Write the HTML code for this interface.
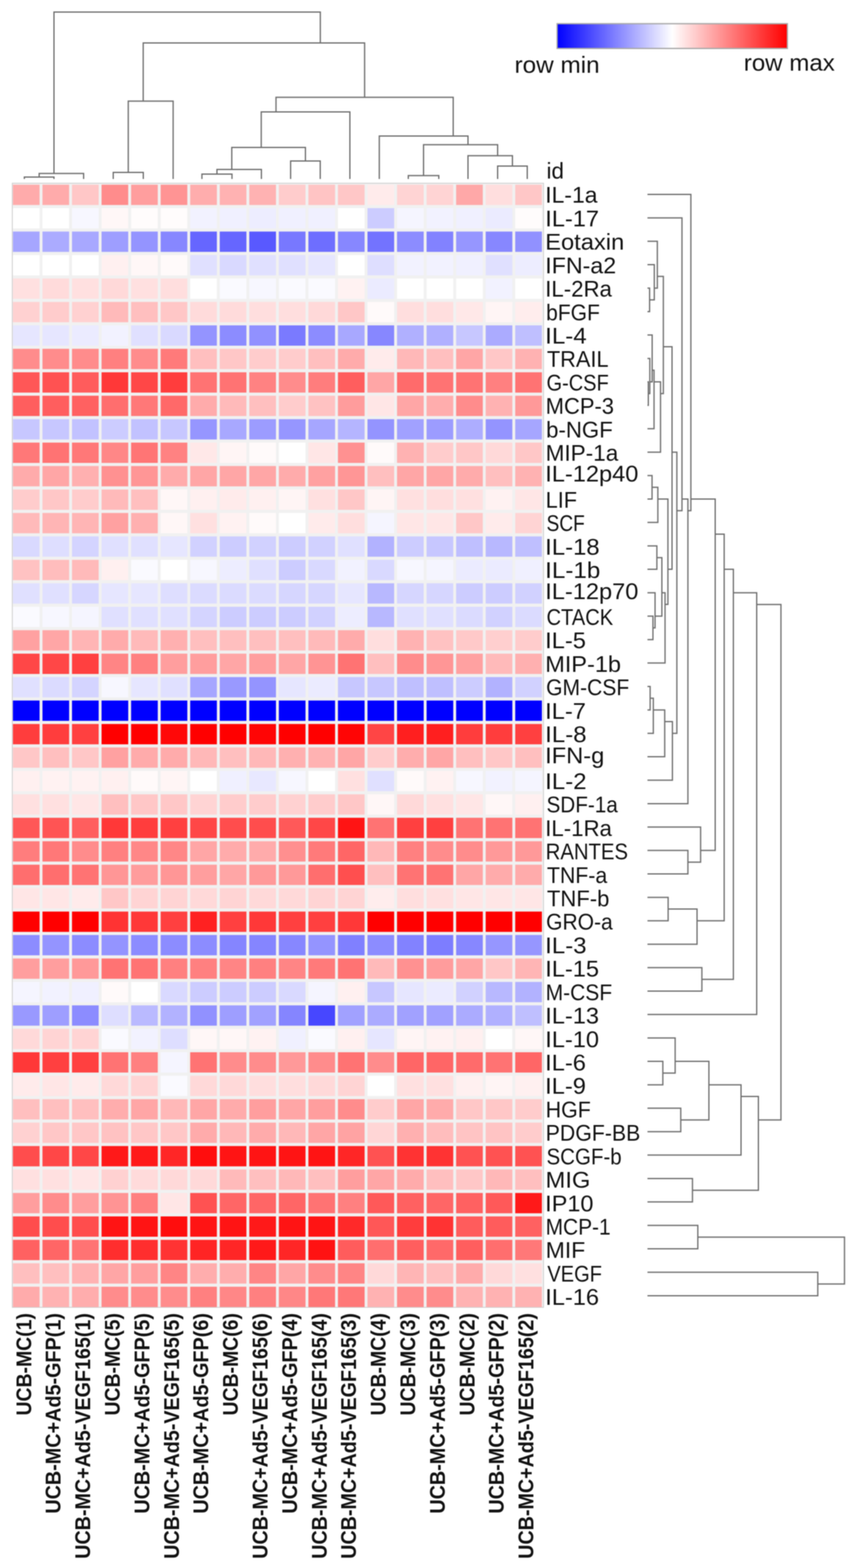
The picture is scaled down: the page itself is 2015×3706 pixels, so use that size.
<!DOCTYPE html>
<html><head><meta charset="utf-8"><title>Heatmap</title>
<style>
html,body{margin:0;padding:0;background:#fff;}
body{width:2015px;height:3706px;overflow:hidden;}
svg{display:block;filter:blur(0.8px);}
.rl{font-family:"Liberation Sans",Arial,sans-serif;font-size:53px;fill:#111;}
.cl{font-family:"Liberation Sans",Arial,sans-serif;font-size:50px;font-weight:bold;fill:#111;}
.lg{font-family:"Liberation Sans",Arial,sans-serif;font-size:56px;fill:#111;}
</style></head><body>
<svg width="2015" height="3706" viewBox="0 0 2015 3706">
<defs><linearGradient id="cg" x1="0" x2="1" y1="0" y2="0">
<stop offset="0" stop-color="#0000ff"/><stop offset="0.5" stop-color="#ffffff"/><stop offset="1" stop-color="#ff0000"/>
</linearGradient></defs>
<rect x="0" y="0" width="2015" height="3706" fill="#fff"/>
<rect x="1316" y="56" width="544" height="58.5" fill="url(#cg)" stroke="#a8a8a8" stroke-width="3"/>
<text class="lg" x="1215.5" y="171.7" textLength="201" lengthAdjust="spacingAndGlyphs">row min</text>
<text class="lg" x="1757" y="166.8" textLength="215" lengthAdjust="spacingAndGlyphs">row max</text>
<rect x="29" y="433" width="1255" height="2657" fill="#f1f1f1" stroke="#cfcfcf" stroke-width="2"/>
<g><rect x="30.5" y="436.5" width="63.0" height="48.0" fill="#ffabab"/><rect x="100.3" y="436.5" width="63.0" height="48.0" fill="#ffabab"/><rect x="170.1" y="436.5" width="63.0" height="48.0" fill="#ffc7c7"/><rect x="239.9" y="436.5" width="63.0" height="48.0" fill="#ff8c8c"/><rect x="309.7" y="436.5" width="63.0" height="48.0" fill="#ff9e9e"/><rect x="379.5" y="436.5" width="63.0" height="48.0" fill="#ff9494"/><rect x="449.3" y="436.5" width="63.0" height="48.0" fill="#ffadad"/><rect x="519.1" y="436.5" width="63.0" height="48.0" fill="#ffb2b2"/><rect x="588.9" y="436.5" width="63.0" height="48.0" fill="#ffb2b2"/><rect x="658.7" y="436.5" width="63.0" height="48.0" fill="#ffcccc"/><rect x="728.5" y="436.5" width="63.0" height="48.0" fill="#ffc4c4"/><rect x="798.3" y="436.5" width="63.0" height="48.0" fill="#ffc7c7"/><rect x="868.1" y="436.5" width="63.0" height="48.0" fill="#ffebeb"/><rect x="937.9" y="436.5" width="63.0" height="48.0" fill="#ffd4d4"/><rect x="1007.7" y="436.5" width="63.0" height="48.0" fill="#ffd4d4"/><rect x="1077.5" y="436.5" width="63.0" height="48.0" fill="#ffa8a8"/><rect x="1147.3" y="436.5" width="63.0" height="48.0" fill="#ffdede"/><rect x="1217.1" y="436.5" width="63.0" height="48.0" fill="#ffc7c7"/><rect x="30.5" y="491.9" width="63.0" height="48.0" fill="#ffffff"/><rect x="100.3" y="491.9" width="63.0" height="48.0" fill="#ffffff"/><rect x="170.1" y="491.9" width="63.0" height="48.0" fill="#f7f7ff"/><rect x="239.9" y="491.9" width="63.0" height="48.0" fill="#fff7f7"/><rect x="309.7" y="491.9" width="63.0" height="48.0" fill="#fffcfc"/><rect x="379.5" y="491.9" width="63.0" height="48.0" fill="#fffcfc"/><rect x="449.3" y="491.9" width="63.0" height="48.0" fill="#f2f2ff"/><rect x="519.1" y="491.9" width="63.0" height="48.0" fill="#f0f0ff"/><rect x="588.9" y="491.9" width="63.0" height="48.0" fill="#ededff"/><rect x="658.7" y="491.9" width="63.0" height="48.0" fill="#f0f0ff"/><rect x="728.5" y="491.9" width="63.0" height="48.0" fill="#f0f0ff"/><rect x="798.3" y="491.9" width="63.0" height="48.0" fill="#ffffff"/><rect x="868.1" y="491.9" width="63.0" height="48.0" fill="#ccccff"/><rect x="937.9" y="491.9" width="63.0" height="48.0" fill="#f5f5ff"/><rect x="1007.7" y="491.9" width="63.0" height="48.0" fill="#f2f2ff"/><rect x="1077.5" y="491.9" width="63.0" height="48.0" fill="#f0f0ff"/><rect x="1147.3" y="491.9" width="63.0" height="48.0" fill="#ebebff"/><rect x="1217.1" y="491.9" width="63.0" height="48.0" fill="#fffcfc"/><rect x="30.5" y="547.3" width="63.0" height="48.0" fill="#a6a6ff"/><rect x="100.3" y="547.3" width="63.0" height="48.0" fill="#ababff"/><rect x="170.1" y="547.3" width="63.0" height="48.0" fill="#a8a8ff"/><rect x="239.9" y="547.3" width="63.0" height="48.0" fill="#9e9eff"/><rect x="309.7" y="547.3" width="63.0" height="48.0" fill="#9494ff"/><rect x="379.5" y="547.3" width="63.0" height="48.0" fill="#8787ff"/><rect x="449.3" y="547.3" width="63.0" height="48.0" fill="#6666ff"/><rect x="519.1" y="547.3" width="63.0" height="48.0" fill="#6666ff"/><rect x="588.9" y="547.3" width="63.0" height="48.0" fill="#5959ff"/><rect x="658.7" y="547.3" width="63.0" height="48.0" fill="#7878ff"/><rect x="728.5" y="547.3" width="63.0" height="48.0" fill="#6e6eff"/><rect x="798.3" y="547.3" width="63.0" height="48.0" fill="#8787ff"/><rect x="868.1" y="547.3" width="63.0" height="48.0" fill="#7373ff"/><rect x="937.9" y="547.3" width="63.0" height="48.0" fill="#8c8cff"/><rect x="1007.7" y="547.3" width="63.0" height="48.0" fill="#8282ff"/><rect x="1077.5" y="547.3" width="63.0" height="48.0" fill="#9696ff"/><rect x="1147.3" y="547.3" width="63.0" height="48.0" fill="#8787ff"/><rect x="1217.1" y="547.3" width="63.0" height="48.0" fill="#9191ff"/><rect x="30.5" y="602.8" width="63.0" height="48.0" fill="#ffffff"/><rect x="100.3" y="602.8" width="63.0" height="48.0" fill="#ffffff"/><rect x="170.1" y="602.8" width="63.0" height="48.0" fill="#ffffff"/><rect x="239.9" y="602.8" width="63.0" height="48.0" fill="#fff0f0"/><rect x="309.7" y="602.8" width="63.0" height="48.0" fill="#fff7f7"/><rect x="379.5" y="602.8" width="63.0" height="48.0" fill="#fffafa"/><rect x="449.3" y="602.8" width="63.0" height="48.0" fill="#e0e0ff"/><rect x="519.1" y="602.8" width="63.0" height="48.0" fill="#d9d9ff"/><rect x="588.9" y="602.8" width="63.0" height="48.0" fill="#e0e0ff"/><rect x="658.7" y="602.8" width="63.0" height="48.0" fill="#e0e0ff"/><rect x="728.5" y="602.8" width="63.0" height="48.0" fill="#e6e6ff"/><rect x="798.3" y="602.8" width="63.0" height="48.0" fill="#ffffff"/><rect x="868.1" y="602.8" width="63.0" height="48.0" fill="#dedeff"/><rect x="937.9" y="602.8" width="63.0" height="48.0" fill="#f2f2ff"/><rect x="1007.7" y="602.8" width="63.0" height="48.0" fill="#f2f2ff"/><rect x="1077.5" y="602.8" width="63.0" height="48.0" fill="#f0f0ff"/><rect x="1147.3" y="602.8" width="63.0" height="48.0" fill="#e0e0ff"/><rect x="1217.1" y="602.8" width="63.0" height="48.0" fill="#ededff"/><rect x="30.5" y="658.2" width="63.0" height="48.0" fill="#ffe0e0"/><rect x="100.3" y="658.2" width="63.0" height="48.0" fill="#ffdbdb"/><rect x="170.1" y="658.2" width="63.0" height="48.0" fill="#ffe0e0"/><rect x="239.9" y="658.2" width="63.0" height="48.0" fill="#ffd9d9"/><rect x="309.7" y="658.2" width="63.0" height="48.0" fill="#ffe0e0"/><rect x="379.5" y="658.2" width="63.0" height="48.0" fill="#ffdede"/><rect x="449.3" y="658.2" width="63.0" height="48.0" fill="#ffffff"/><rect x="519.1" y="658.2" width="63.0" height="48.0" fill="#fafaff"/><rect x="588.9" y="658.2" width="63.0" height="48.0" fill="#f7f7ff"/><rect x="658.7" y="658.2" width="63.0" height="48.0" fill="#fafaff"/><rect x="728.5" y="658.2" width="63.0" height="48.0" fill="#fafaff"/><rect x="798.3" y="658.2" width="63.0" height="48.0" fill="#fff2f2"/><rect x="868.1" y="658.2" width="63.0" height="48.0" fill="#ebebff"/><rect x="937.9" y="658.2" width="63.0" height="48.0" fill="#ffffff"/><rect x="1007.7" y="658.2" width="63.0" height="48.0" fill="#ffffff"/><rect x="1077.5" y="658.2" width="63.0" height="48.0" fill="#ffffff"/><rect x="1147.3" y="658.2" width="63.0" height="48.0" fill="#f2f2ff"/><rect x="1217.1" y="658.2" width="63.0" height="48.0" fill="#ffffff"/><rect x="30.5" y="713.6" width="63.0" height="48.0" fill="#ffd1d1"/><rect x="100.3" y="713.6" width="63.0" height="48.0" fill="#ffcccc"/><rect x="170.1" y="713.6" width="63.0" height="48.0" fill="#ffd1d1"/><rect x="239.9" y="713.6" width="63.0" height="48.0" fill="#ffbaba"/><rect x="309.7" y="713.6" width="63.0" height="48.0" fill="#ffbfbf"/><rect x="379.5" y="713.6" width="63.0" height="48.0" fill="#ffc7c7"/><rect x="449.3" y="713.6" width="63.0" height="48.0" fill="#ffdbdb"/><rect x="519.1" y="713.6" width="63.0" height="48.0" fill="#ffdbdb"/><rect x="588.9" y="713.6" width="63.0" height="48.0" fill="#ffdede"/><rect x="658.7" y="713.6" width="63.0" height="48.0" fill="#ffdede"/><rect x="728.5" y="713.6" width="63.0" height="48.0" fill="#ffd9d9"/><rect x="798.3" y="713.6" width="63.0" height="48.0" fill="#ffc7c7"/><rect x="868.1" y="713.6" width="63.0" height="48.0" fill="#fffafa"/><rect x="937.9" y="713.6" width="63.0" height="48.0" fill="#ffdede"/><rect x="1007.7" y="713.6" width="63.0" height="48.0" fill="#ffdede"/><rect x="1077.5" y="713.6" width="63.0" height="48.0" fill="#ffe8e8"/><rect x="1147.3" y="713.6" width="63.0" height="48.0" fill="#fff5f5"/><rect x="1217.1" y="713.6" width="63.0" height="48.0" fill="#ffeded"/><rect x="30.5" y="769.0" width="63.0" height="48.0" fill="#e6e6ff"/><rect x="100.3" y="769.0" width="63.0" height="48.0" fill="#e6e6ff"/><rect x="170.1" y="769.0" width="63.0" height="48.0" fill="#ebebff"/><rect x="239.9" y="769.0" width="63.0" height="48.0" fill="#f2f2ff"/><rect x="309.7" y="769.0" width="63.0" height="48.0" fill="#e0e0ff"/><rect x="379.5" y="769.0" width="63.0" height="48.0" fill="#d9d9ff"/><rect x="449.3" y="769.0" width="63.0" height="48.0" fill="#9494ff"/><rect x="519.1" y="769.0" width="63.0" height="48.0" fill="#8c8cff"/><rect x="588.9" y="769.0" width="63.0" height="48.0" fill="#9191ff"/><rect x="658.7" y="769.0" width="63.0" height="48.0" fill="#7a7aff"/><rect x="728.5" y="769.0" width="63.0" height="48.0" fill="#8c8cff"/><rect x="798.3" y="769.0" width="63.0" height="48.0" fill="#a8a8ff"/><rect x="868.1" y="769.0" width="63.0" height="48.0" fill="#8787ff"/><rect x="937.9" y="769.0" width="63.0" height="48.0" fill="#b0b0ff"/><rect x="1007.7" y="769.0" width="63.0" height="48.0" fill="#b0b0ff"/><rect x="1077.5" y="769.0" width="63.0" height="48.0" fill="#c7c7ff"/><rect x="1147.3" y="769.0" width="63.0" height="48.0" fill="#ababff"/><rect x="1217.1" y="769.0" width="63.0" height="48.0" fill="#bfbfff"/><rect x="30.5" y="824.4" width="63.0" height="48.0" fill="#ff8c8c"/><rect x="100.3" y="824.4" width="63.0" height="48.0" fill="#ff8c8c"/><rect x="170.1" y="824.4" width="63.0" height="48.0" fill="#ff8c8c"/><rect x="239.9" y="824.4" width="63.0" height="48.0" fill="#ff8080"/><rect x="309.7" y="824.4" width="63.0" height="48.0" fill="#ff8c8c"/><rect x="379.5" y="824.4" width="63.0" height="48.0" fill="#ff7a7a"/><rect x="449.3" y="824.4" width="63.0" height="48.0" fill="#ffbfbf"/><rect x="519.1" y="824.4" width="63.0" height="48.0" fill="#ffc7c7"/><rect x="588.9" y="824.4" width="63.0" height="48.0" fill="#ffcccc"/><rect x="658.7" y="824.4" width="63.0" height="48.0" fill="#ffcccc"/><rect x="728.5" y="824.4" width="63.0" height="48.0" fill="#ffbfbf"/><rect x="798.3" y="824.4" width="63.0" height="48.0" fill="#ffabab"/><rect x="868.1" y="824.4" width="63.0" height="48.0" fill="#ffebeb"/><rect x="937.9" y="824.4" width="63.0" height="48.0" fill="#ffb8b8"/><rect x="1007.7" y="824.4" width="63.0" height="48.0" fill="#ffbfbf"/><rect x="1077.5" y="824.4" width="63.0" height="48.0" fill="#ffa6a6"/><rect x="1147.3" y="824.4" width="63.0" height="48.0" fill="#ffc7c7"/><rect x="1217.1" y="824.4" width="63.0" height="48.0" fill="#ffb2b2"/><rect x="30.5" y="879.9" width="63.0" height="48.0" fill="#ff5757"/><rect x="100.3" y="879.9" width="63.0" height="48.0" fill="#ff5252"/><rect x="170.1" y="879.9" width="63.0" height="48.0" fill="#ff5c5c"/><rect x="239.9" y="879.9" width="63.0" height="48.0" fill="#ff3838"/><rect x="309.7" y="879.9" width="63.0" height="48.0" fill="#ff4747"/><rect x="379.5" y="879.9" width="63.0" height="48.0" fill="#ff3d3d"/><rect x="449.3" y="879.9" width="63.0" height="48.0" fill="#ff7373"/><rect x="519.1" y="879.9" width="63.0" height="48.0" fill="#ff7373"/><rect x="588.9" y="879.9" width="63.0" height="48.0" fill="#ff8282"/><rect x="658.7" y="879.9" width="63.0" height="48.0" fill="#ff8c8c"/><rect x="728.5" y="879.9" width="63.0" height="48.0" fill="#ff7d7d"/><rect x="798.3" y="879.9" width="63.0" height="48.0" fill="#ff5e5e"/><rect x="868.1" y="879.9" width="63.0" height="48.0" fill="#ffa6a6"/><rect x="937.9" y="879.9" width="63.0" height="48.0" fill="#ff6b6b"/><rect x="1007.7" y="879.9" width="63.0" height="48.0" fill="#ff7373"/><rect x="1077.5" y="879.9" width="63.0" height="48.0" fill="#ff7373"/><rect x="1147.3" y="879.9" width="63.0" height="48.0" fill="#ff8080"/><rect x="1217.1" y="879.9" width="63.0" height="48.0" fill="#ff7373"/><rect x="30.5" y="935.3" width="63.0" height="48.0" fill="#ff5e5e"/><rect x="100.3" y="935.3" width="63.0" height="48.0" fill="#ff5e5e"/><rect x="170.1" y="935.3" width="63.0" height="48.0" fill="#ff6161"/><rect x="239.9" y="935.3" width="63.0" height="48.0" fill="#ff6e6e"/><rect x="309.7" y="935.3" width="63.0" height="48.0" fill="#ff7878"/><rect x="379.5" y="935.3" width="63.0" height="48.0" fill="#ff6969"/><rect x="449.3" y="935.3" width="63.0" height="48.0" fill="#ffabab"/><rect x="519.1" y="935.3" width="63.0" height="48.0" fill="#ffbaba"/><rect x="588.9" y="935.3" width="63.0" height="48.0" fill="#ffbfbf"/><rect x="658.7" y="935.3" width="63.0" height="48.0" fill="#ffcccc"/><rect x="728.5" y="935.3" width="63.0" height="48.0" fill="#ffc2c2"/><rect x="798.3" y="935.3" width="63.0" height="48.0" fill="#ff9c9c"/><rect x="868.1" y="935.3" width="63.0" height="48.0" fill="#ffe6e6"/><rect x="937.9" y="935.3" width="63.0" height="48.0" fill="#ffa6a6"/><rect x="1007.7" y="935.3" width="63.0" height="48.0" fill="#ffadad"/><rect x="1077.5" y="935.3" width="63.0" height="48.0" fill="#ff8c8c"/><rect x="1147.3" y="935.3" width="63.0" height="48.0" fill="#ffb2b2"/><rect x="1217.1" y="935.3" width="63.0" height="48.0" fill="#ff9999"/><rect x="30.5" y="990.7" width="63.0" height="48.0" fill="#c7c7ff"/><rect x="100.3" y="990.7" width="63.0" height="48.0" fill="#c7c7ff"/><rect x="170.1" y="990.7" width="63.0" height="48.0" fill="#c2c2ff"/><rect x="239.9" y="990.7" width="63.0" height="48.0" fill="#ccccff"/><rect x="309.7" y="990.7" width="63.0" height="48.0" fill="#c2c2ff"/><rect x="379.5" y="990.7" width="63.0" height="48.0" fill="#c7c7ff"/><rect x="449.3" y="990.7" width="63.0" height="48.0" fill="#9696ff"/><rect x="519.1" y="990.7" width="63.0" height="48.0" fill="#a8a8ff"/><rect x="588.9" y="990.7" width="63.0" height="48.0" fill="#9c9cff"/><rect x="658.7" y="990.7" width="63.0" height="48.0" fill="#9696ff"/><rect x="728.5" y="990.7" width="63.0" height="48.0" fill="#a6a6ff"/><rect x="798.3" y="990.7" width="63.0" height="48.0" fill="#b5b5ff"/><rect x="868.1" y="990.7" width="63.0" height="48.0" fill="#9494ff"/><rect x="937.9" y="990.7" width="63.0" height="48.0" fill="#a1a1ff"/><rect x="1007.7" y="990.7" width="63.0" height="48.0" fill="#9c9cff"/><rect x="1077.5" y="990.7" width="63.0" height="48.0" fill="#adadff"/><rect x="1147.3" y="990.7" width="63.0" height="48.0" fill="#9494ff"/><rect x="1217.1" y="990.7" width="63.0" height="48.0" fill="#a6a6ff"/><rect x="30.5" y="1046.1" width="63.0" height="48.0" fill="#ff7878"/><rect x="100.3" y="1046.1" width="63.0" height="48.0" fill="#ff7373"/><rect x="170.1" y="1046.1" width="63.0" height="48.0" fill="#ff7878"/><rect x="239.9" y="1046.1" width="63.0" height="48.0" fill="#ff8787"/><rect x="309.7" y="1046.1" width="63.0" height="48.0" fill="#ff7575"/><rect x="379.5" y="1046.1" width="63.0" height="48.0" fill="#ff8282"/><rect x="449.3" y="1046.1" width="63.0" height="48.0" fill="#ffe8e8"/><rect x="519.1" y="1046.1" width="63.0" height="48.0" fill="#fff5f5"/><rect x="588.9" y="1046.1" width="63.0" height="48.0" fill="#fffafa"/><rect x="658.7" y="1046.1" width="63.0" height="48.0" fill="#ffffff"/><rect x="728.5" y="1046.1" width="63.0" height="48.0" fill="#ffe6e6"/><rect x="798.3" y="1046.1" width="63.0" height="48.0" fill="#ff9191"/><rect x="868.1" y="1046.1" width="63.0" height="48.0" fill="#fffafa"/><rect x="937.9" y="1046.1" width="63.0" height="48.0" fill="#ffb2b2"/><rect x="1007.7" y="1046.1" width="63.0" height="48.0" fill="#ffcccc"/><rect x="1077.5" y="1046.1" width="63.0" height="48.0" fill="#ffc7c7"/><rect x="1147.3" y="1046.1" width="63.0" height="48.0" fill="#ffd9d9"/><rect x="1217.1" y="1046.1" width="63.0" height="48.0" fill="#ffc7c7"/><rect x="30.5" y="1101.5" width="63.0" height="48.0" fill="#ffabab"/><rect x="100.3" y="1101.5" width="63.0" height="48.0" fill="#ffa6a6"/><rect x="170.1" y="1101.5" width="63.0" height="48.0" fill="#ffb0b0"/><rect x="239.9" y="1101.5" width="63.0" height="48.0" fill="#ff9191"/><rect x="309.7" y="1101.5" width="63.0" height="48.0" fill="#ff9696"/><rect x="379.5" y="1101.5" width="63.0" height="48.0" fill="#ffabab"/><rect x="449.3" y="1101.5" width="63.0" height="48.0" fill="#ffa6a6"/><rect x="519.1" y="1101.5" width="63.0" height="48.0" fill="#ffa6a6"/><rect x="588.9" y="1101.5" width="63.0" height="48.0" fill="#ffa6a6"/><rect x="658.7" y="1101.5" width="63.0" height="48.0" fill="#ffabab"/><rect x="728.5" y="1101.5" width="63.0" height="48.0" fill="#ffa1a1"/><rect x="798.3" y="1101.5" width="63.0" height="48.0" fill="#ff9696"/><rect x="868.1" y="1101.5" width="63.0" height="48.0" fill="#ffbfbf"/><rect x="937.9" y="1101.5" width="63.0" height="48.0" fill="#ffa6a6"/><rect x="1007.7" y="1101.5" width="63.0" height="48.0" fill="#ffa6a6"/><rect x="1077.5" y="1101.5" width="63.0" height="48.0" fill="#ffabab"/><rect x="1147.3" y="1101.5" width="63.0" height="48.0" fill="#ffbfbf"/><rect x="1217.1" y="1101.5" width="63.0" height="48.0" fill="#ffb2b2"/><rect x="30.5" y="1157.0" width="63.0" height="48.0" fill="#ffcccc"/><rect x="100.3" y="1157.0" width="63.0" height="48.0" fill="#ffc7c7"/><rect x="170.1" y="1157.0" width="63.0" height="48.0" fill="#ffcccc"/><rect x="239.9" y="1157.0" width="63.0" height="48.0" fill="#ffbaba"/><rect x="309.7" y="1157.0" width="63.0" height="48.0" fill="#ffbfbf"/><rect x="379.5" y="1157.0" width="63.0" height="48.0" fill="#fff7f7"/><rect x="449.3" y="1157.0" width="63.0" height="48.0" fill="#fff0f0"/><rect x="519.1" y="1157.0" width="63.0" height="48.0" fill="#ffebeb"/><rect x="588.9" y="1157.0" width="63.0" height="48.0" fill="#fff0f0"/><rect x="658.7" y="1157.0" width="63.0" height="48.0" fill="#fff5f5"/><rect x="728.5" y="1157.0" width="63.0" height="48.0" fill="#ffe0e0"/><rect x="798.3" y="1157.0" width="63.0" height="48.0" fill="#ffc7c7"/><rect x="868.1" y="1157.0" width="63.0" height="48.0" fill="#fff5f5"/><rect x="937.9" y="1157.0" width="63.0" height="48.0" fill="#ffe0e0"/><rect x="1007.7" y="1157.0" width="63.0" height="48.0" fill="#ffdede"/><rect x="1077.5" y="1157.0" width="63.0" height="48.0" fill="#ffe0e0"/><rect x="1147.3" y="1157.0" width="63.0" height="48.0" fill="#fff2f2"/><rect x="1217.1" y="1157.0" width="63.0" height="48.0" fill="#ffe6e6"/><rect x="30.5" y="1212.4" width="63.0" height="48.0" fill="#ffbaba"/><rect x="100.3" y="1212.4" width="63.0" height="48.0" fill="#ffb5b5"/><rect x="170.1" y="1212.4" width="63.0" height="48.0" fill="#ffb5b5"/><rect x="239.9" y="1212.4" width="63.0" height="48.0" fill="#ffa1a1"/><rect x="309.7" y="1212.4" width="63.0" height="48.0" fill="#ffb0b0"/><rect x="379.5" y="1212.4" width="63.0" height="48.0" fill="#fff7f7"/><rect x="449.3" y="1212.4" width="63.0" height="48.0" fill="#ffe0e0"/><rect x="519.1" y="1212.4" width="63.0" height="48.0" fill="#fff2f2"/><rect x="588.9" y="1212.4" width="63.0" height="48.0" fill="#fffafa"/><rect x="658.7" y="1212.4" width="63.0" height="48.0" fill="#ffffff"/><rect x="728.5" y="1212.4" width="63.0" height="48.0" fill="#ffebeb"/><rect x="798.3" y="1212.4" width="63.0" height="48.0" fill="#ffdede"/><rect x="868.1" y="1212.4" width="63.0" height="48.0" fill="#f5f5ff"/><rect x="937.9" y="1212.4" width="63.0" height="48.0" fill="#ffe6e6"/><rect x="1007.7" y="1212.4" width="63.0" height="48.0" fill="#ffe6e6"/><rect x="1077.5" y="1212.4" width="63.0" height="48.0" fill="#ffc7c7"/><rect x="1147.3" y="1212.4" width="63.0" height="48.0" fill="#ffebeb"/><rect x="1217.1" y="1212.4" width="63.0" height="48.0" fill="#ffd4d4"/><rect x="30.5" y="1267.8" width="63.0" height="48.0" fill="#d9d9ff"/><rect x="100.3" y="1267.8" width="63.0" height="48.0" fill="#dedeff"/><rect x="170.1" y="1267.8" width="63.0" height="48.0" fill="#d4d4ff"/><rect x="239.9" y="1267.8" width="63.0" height="48.0" fill="#e0e0ff"/><rect x="309.7" y="1267.8" width="63.0" height="48.0" fill="#e0e0ff"/><rect x="379.5" y="1267.8" width="63.0" height="48.0" fill="#e6e6ff"/><rect x="449.3" y="1267.8" width="63.0" height="48.0" fill="#d1d1ff"/><rect x="519.1" y="1267.8" width="63.0" height="48.0" fill="#ccccff"/><rect x="588.9" y="1267.8" width="63.0" height="48.0" fill="#d1d1ff"/><rect x="658.7" y="1267.8" width="63.0" height="48.0" fill="#ccccff"/><rect x="728.5" y="1267.8" width="63.0" height="48.0" fill="#d1d1ff"/><rect x="798.3" y="1267.8" width="63.0" height="48.0" fill="#e0e0ff"/><rect x="868.1" y="1267.8" width="63.0" height="48.0" fill="#b2b2ff"/><rect x="937.9" y="1267.8" width="63.0" height="48.0" fill="#ccccff"/><rect x="1007.7" y="1267.8" width="63.0" height="48.0" fill="#c7c7ff"/><rect x="1077.5" y="1267.8" width="63.0" height="48.0" fill="#bfbfff"/><rect x="1147.3" y="1267.8" width="63.0" height="48.0" fill="#b8b8ff"/><rect x="1217.1" y="1267.8" width="63.0" height="48.0" fill="#bfbfff"/><rect x="30.5" y="1323.2" width="63.0" height="48.0" fill="#ffc2c2"/><rect x="100.3" y="1323.2" width="63.0" height="48.0" fill="#ffbdbd"/><rect x="170.1" y="1323.2" width="63.0" height="48.0" fill="#ffbaba"/><rect x="239.9" y="1323.2" width="63.0" height="48.0" fill="#fff0f0"/><rect x="309.7" y="1323.2" width="63.0" height="48.0" fill="#fafaff"/><rect x="379.5" y="1323.2" width="63.0" height="48.0" fill="#ffffff"/><rect x="449.3" y="1323.2" width="63.0" height="48.0" fill="#f7f7ff"/><rect x="519.1" y="1323.2" width="63.0" height="48.0" fill="#ededff"/><rect x="588.9" y="1323.2" width="63.0" height="48.0" fill="#e0e0ff"/><rect x="658.7" y="1323.2" width="63.0" height="48.0" fill="#ccccff"/><rect x="728.5" y="1323.2" width="63.0" height="48.0" fill="#d9d9ff"/><rect x="798.3" y="1323.2" width="63.0" height="48.0" fill="#f2f2ff"/><rect x="868.1" y="1323.2" width="63.0" height="48.0" fill="#d9d9ff"/><rect x="937.9" y="1323.2" width="63.0" height="48.0" fill="#f7f7ff"/><rect x="1007.7" y="1323.2" width="63.0" height="48.0" fill="#f5f5ff"/><rect x="1077.5" y="1323.2" width="63.0" height="48.0" fill="#ebebff"/><rect x="1147.3" y="1323.2" width="63.0" height="48.0" fill="#ebebff"/><rect x="1217.1" y="1323.2" width="63.0" height="48.0" fill="#f0f0ff"/><rect x="30.5" y="1378.6" width="63.0" height="48.0" fill="#e0e0ff"/><rect x="100.3" y="1378.6" width="63.0" height="48.0" fill="#e0e0ff"/><rect x="170.1" y="1378.6" width="63.0" height="48.0" fill="#d6d6ff"/><rect x="239.9" y="1378.6" width="63.0" height="48.0" fill="#e6e6ff"/><rect x="309.7" y="1378.6" width="63.0" height="48.0" fill="#e6e6ff"/><rect x="379.5" y="1378.6" width="63.0" height="48.0" fill="#dedeff"/><rect x="449.3" y="1378.6" width="63.0" height="48.0" fill="#dbdbff"/><rect x="519.1" y="1378.6" width="63.0" height="48.0" fill="#dbdbff"/><rect x="588.9" y="1378.6" width="63.0" height="48.0" fill="#dbdbff"/><rect x="658.7" y="1378.6" width="63.0" height="48.0" fill="#d6d6ff"/><rect x="728.5" y="1378.6" width="63.0" height="48.0" fill="#d6d6ff"/><rect x="798.3" y="1378.6" width="63.0" height="48.0" fill="#e6e6ff"/><rect x="868.1" y="1378.6" width="63.0" height="48.0" fill="#b8b8ff"/><rect x="937.9" y="1378.6" width="63.0" height="48.0" fill="#d6d6ff"/><rect x="1007.7" y="1378.6" width="63.0" height="48.0" fill="#d6d6ff"/><rect x="1077.5" y="1378.6" width="63.0" height="48.0" fill="#ccccff"/><rect x="1147.3" y="1378.6" width="63.0" height="48.0" fill="#ccccff"/><rect x="1217.1" y="1378.6" width="63.0" height="48.0" fill="#d1d1ff"/><rect x="30.5" y="1434.1" width="63.0" height="48.0" fill="#fafaff"/><rect x="100.3" y="1434.1" width="63.0" height="48.0" fill="#f7f7ff"/><rect x="170.1" y="1434.1" width="63.0" height="48.0" fill="#f5f5ff"/><rect x="239.9" y="1434.1" width="63.0" height="48.0" fill="#e0e0ff"/><rect x="309.7" y="1434.1" width="63.0" height="48.0" fill="#e0e0ff"/><rect x="379.5" y="1434.1" width="63.0" height="48.0" fill="#e0e0ff"/><rect x="449.3" y="1434.1" width="63.0" height="48.0" fill="#d4d4ff"/><rect x="519.1" y="1434.1" width="63.0" height="48.0" fill="#ccccff"/><rect x="588.9" y="1434.1" width="63.0" height="48.0" fill="#ccccff"/><rect x="658.7" y="1434.1" width="63.0" height="48.0" fill="#ccccff"/><rect x="728.5" y="1434.1" width="63.0" height="48.0" fill="#d1d1ff"/><rect x="798.3" y="1434.1" width="63.0" height="48.0" fill="#ededff"/><rect x="868.1" y="1434.1" width="63.0" height="48.0" fill="#b8b8ff"/><rect x="937.9" y="1434.1" width="63.0" height="48.0" fill="#e0e0ff"/><rect x="1007.7" y="1434.1" width="63.0" height="48.0" fill="#e0e0ff"/><rect x="1077.5" y="1434.1" width="63.0" height="48.0" fill="#dbdbff"/><rect x="1147.3" y="1434.1" width="63.0" height="48.0" fill="#d1d1ff"/><rect x="1217.1" y="1434.1" width="63.0" height="48.0" fill="#dbdbff"/><rect x="30.5" y="1489.5" width="63.0" height="48.0" fill="#ffa1a1"/><rect x="100.3" y="1489.5" width="63.0" height="48.0" fill="#ffa6a6"/><rect x="170.1" y="1489.5" width="63.0" height="48.0" fill="#ffb5b5"/><rect x="239.9" y="1489.5" width="63.0" height="48.0" fill="#ffabab"/><rect x="309.7" y="1489.5" width="63.0" height="48.0" fill="#ffbaba"/><rect x="379.5" y="1489.5" width="63.0" height="48.0" fill="#ffb0b0"/><rect x="449.3" y="1489.5" width="63.0" height="48.0" fill="#ffbfbf"/><rect x="519.1" y="1489.5" width="63.0" height="48.0" fill="#ffbfbf"/><rect x="588.9" y="1489.5" width="63.0" height="48.0" fill="#ffbfbf"/><rect x="658.7" y="1489.5" width="63.0" height="48.0" fill="#ffbfbf"/><rect x="728.5" y="1489.5" width="63.0" height="48.0" fill="#ffbaba"/><rect x="798.3" y="1489.5" width="63.0" height="48.0" fill="#ffabab"/><rect x="868.1" y="1489.5" width="63.0" height="48.0" fill="#ffdede"/><rect x="937.9" y="1489.5" width="63.0" height="48.0" fill="#ffb2b2"/><rect x="1007.7" y="1489.5" width="63.0" height="48.0" fill="#ffc2c2"/><rect x="1077.5" y="1489.5" width="63.0" height="48.0" fill="#ffc9c9"/><rect x="1147.3" y="1489.5" width="63.0" height="48.0" fill="#ffcfcf"/><rect x="1217.1" y="1489.5" width="63.0" height="48.0" fill="#ffcccc"/><rect x="30.5" y="1544.9" width="63.0" height="48.0" fill="#ff4747"/><rect x="100.3" y="1544.9" width="63.0" height="48.0" fill="#ff4747"/><rect x="170.1" y="1544.9" width="63.0" height="48.0" fill="#ff4040"/><rect x="239.9" y="1544.9" width="63.0" height="48.0" fill="#ff8585"/><rect x="309.7" y="1544.9" width="63.0" height="48.0" fill="#ff8080"/><rect x="379.5" y="1544.9" width="63.0" height="48.0" fill="#ff9e9e"/><rect x="449.3" y="1544.9" width="63.0" height="48.0" fill="#ff9e9e"/><rect x="519.1" y="1544.9" width="63.0" height="48.0" fill="#ffa6a6"/><rect x="588.9" y="1544.9" width="63.0" height="48.0" fill="#ff9e9e"/><rect x="658.7" y="1544.9" width="63.0" height="48.0" fill="#ffa6a6"/><rect x="728.5" y="1544.9" width="63.0" height="48.0" fill="#ff9494"/><rect x="798.3" y="1544.9" width="63.0" height="48.0" fill="#ff7373"/><rect x="868.1" y="1544.9" width="63.0" height="48.0" fill="#ffbfbf"/><rect x="937.9" y="1544.9" width="63.0" height="48.0" fill="#ff8c8c"/><rect x="1007.7" y="1544.9" width="63.0" height="48.0" fill="#ff9696"/><rect x="1077.5" y="1544.9" width="63.0" height="48.0" fill="#ffa1a1"/><rect x="1147.3" y="1544.9" width="63.0" height="48.0" fill="#ffbaba"/><rect x="1217.1" y="1544.9" width="63.0" height="48.0" fill="#ffb0b0"/><rect x="30.5" y="1600.3" width="63.0" height="48.0" fill="#e0e0ff"/><rect x="100.3" y="1600.3" width="63.0" height="48.0" fill="#dbdbff"/><rect x="170.1" y="1600.3" width="63.0" height="48.0" fill="#d4d4ff"/><rect x="239.9" y="1600.3" width="63.0" height="48.0" fill="#f7f7ff"/><rect x="309.7" y="1600.3" width="63.0" height="48.0" fill="#e6e6ff"/><rect x="379.5" y="1600.3" width="63.0" height="48.0" fill="#e0e0ff"/><rect x="449.3" y="1600.3" width="63.0" height="48.0" fill="#a6a6ff"/><rect x="519.1" y="1600.3" width="63.0" height="48.0" fill="#9999ff"/><rect x="588.9" y="1600.3" width="63.0" height="48.0" fill="#9494ff"/><rect x="658.7" y="1600.3" width="63.0" height="48.0" fill="#e6e6ff"/><rect x="728.5" y="1600.3" width="63.0" height="48.0" fill="#ebebff"/><rect x="798.3" y="1600.3" width="63.0" height="48.0" fill="#c7c7ff"/><rect x="868.1" y="1600.3" width="63.0" height="48.0" fill="#c7c7ff"/><rect x="937.9" y="1600.3" width="63.0" height="48.0" fill="#bfbfff"/><rect x="1007.7" y="1600.3" width="63.0" height="48.0" fill="#bfbfff"/><rect x="1077.5" y="1600.3" width="63.0" height="48.0" fill="#ccccff"/><rect x="1147.3" y="1600.3" width="63.0" height="48.0" fill="#b2b2ff"/><rect x="1217.1" y="1600.3" width="63.0" height="48.0" fill="#d1d1ff"/><rect x="30.5" y="1655.7" width="63.0" height="48.0" fill="#0000ff"/><rect x="100.3" y="1655.7" width="63.0" height="48.0" fill="#0000ff"/><rect x="170.1" y="1655.7" width="63.0" height="48.0" fill="#0000ff"/><rect x="239.9" y="1655.7" width="63.0" height="48.0" fill="#0000ff"/><rect x="309.7" y="1655.7" width="63.0" height="48.0" fill="#0000ff"/><rect x="379.5" y="1655.7" width="63.0" height="48.0" fill="#0000ff"/><rect x="449.3" y="1655.7" width="63.0" height="48.0" fill="#0000ff"/><rect x="519.1" y="1655.7" width="63.0" height="48.0" fill="#0000ff"/><rect x="588.9" y="1655.7" width="63.0" height="48.0" fill="#0000ff"/><rect x="658.7" y="1655.7" width="63.0" height="48.0" fill="#0000ff"/><rect x="728.5" y="1655.7" width="63.0" height="48.0" fill="#0000ff"/><rect x="798.3" y="1655.7" width="63.0" height="48.0" fill="#0000ff"/><rect x="868.1" y="1655.7" width="63.0" height="48.0" fill="#0000ff"/><rect x="937.9" y="1655.7" width="63.0" height="48.0" fill="#0000ff"/><rect x="1007.7" y="1655.7" width="63.0" height="48.0" fill="#0000ff"/><rect x="1077.5" y="1655.7" width="63.0" height="48.0" fill="#0000ff"/><rect x="1147.3" y="1655.7" width="63.0" height="48.0" fill="#0000ff"/><rect x="1217.1" y="1655.7" width="63.0" height="48.0" fill="#0000ff"/><rect x="30.5" y="1711.2" width="63.0" height="48.0" fill="#ff3d3d"/><rect x="100.3" y="1711.2" width="63.0" height="48.0" fill="#ff3d3d"/><rect x="170.1" y="1711.2" width="63.0" height="48.0" fill="#ff4040"/><rect x="239.9" y="1711.2" width="63.0" height="48.0" fill="#ff0000"/><rect x="309.7" y="1711.2" width="63.0" height="48.0" fill="#ff0000"/><rect x="379.5" y="1711.2" width="63.0" height="48.0" fill="#ff0808"/><rect x="449.3" y="1711.2" width="63.0" height="48.0" fill="#ff0000"/><rect x="519.1" y="1711.2" width="63.0" height="48.0" fill="#ff0000"/><rect x="588.9" y="1711.2" width="63.0" height="48.0" fill="#ff0505"/><rect x="658.7" y="1711.2" width="63.0" height="48.0" fill="#ff0000"/><rect x="728.5" y="1711.2" width="63.0" height="48.0" fill="#ff0000"/><rect x="798.3" y="1711.2" width="63.0" height="48.0" fill="#ff0505"/><rect x="868.1" y="1711.2" width="63.0" height="48.0" fill="#ff4545"/><rect x="937.9" y="1711.2" width="63.0" height="48.0" fill="#ff1f1f"/><rect x="1007.7" y="1711.2" width="63.0" height="48.0" fill="#ff1f1f"/><rect x="1077.5" y="1711.2" width="63.0" height="48.0" fill="#ff3d3d"/><rect x="1147.3" y="1711.2" width="63.0" height="48.0" fill="#ff3d3d"/><rect x="1217.1" y="1711.2" width="63.0" height="48.0" fill="#ff4040"/><rect x="30.5" y="1766.6" width="63.0" height="48.0" fill="#ffc7c7"/><rect x="100.3" y="1766.6" width="63.0" height="48.0" fill="#ffbfbf"/><rect x="170.1" y="1766.6" width="63.0" height="48.0" fill="#ffc7c7"/><rect x="239.9" y="1766.6" width="63.0" height="48.0" fill="#ffa1a1"/><rect x="309.7" y="1766.6" width="63.0" height="48.0" fill="#ffabab"/><rect x="379.5" y="1766.6" width="63.0" height="48.0" fill="#ffabab"/><rect x="449.3" y="1766.6" width="63.0" height="48.0" fill="#ffb8b8"/><rect x="519.1" y="1766.6" width="63.0" height="48.0" fill="#ffbfbf"/><rect x="588.9" y="1766.6" width="63.0" height="48.0" fill="#ffb8b8"/><rect x="658.7" y="1766.6" width="63.0" height="48.0" fill="#ffb0b0"/><rect x="728.5" y="1766.6" width="63.0" height="48.0" fill="#ffb2b2"/><rect x="798.3" y="1766.6" width="63.0" height="48.0" fill="#ffa6a6"/><rect x="868.1" y="1766.6" width="63.0" height="48.0" fill="#ffcccc"/><rect x="937.9" y="1766.6" width="63.0" height="48.0" fill="#ffadad"/><rect x="1007.7" y="1766.6" width="63.0" height="48.0" fill="#ffa6a6"/><rect x="1077.5" y="1766.6" width="63.0" height="48.0" fill="#ffbfbf"/><rect x="1147.3" y="1766.6" width="63.0" height="48.0" fill="#ffc7c7"/><rect x="1217.1" y="1766.6" width="63.0" height="48.0" fill="#ffbfbf"/><rect x="30.5" y="1822.0" width="63.0" height="48.0" fill="#fff0f0"/><rect x="100.3" y="1822.0" width="63.0" height="48.0" fill="#fff2f2"/><rect x="170.1" y="1822.0" width="63.0" height="48.0" fill="#fff2f2"/><rect x="239.9" y="1822.0" width="63.0" height="48.0" fill="#fff0f0"/><rect x="309.7" y="1822.0" width="63.0" height="48.0" fill="#fffafa"/><rect x="379.5" y="1822.0" width="63.0" height="48.0" fill="#fff5f5"/><rect x="449.3" y="1822.0" width="63.0" height="48.0" fill="#ffffff"/><rect x="519.1" y="1822.0" width="63.0" height="48.0" fill="#f0f0ff"/><rect x="588.9" y="1822.0" width="63.0" height="48.0" fill="#e8e8ff"/><rect x="658.7" y="1822.0" width="63.0" height="48.0" fill="#f7f7ff"/><rect x="728.5" y="1822.0" width="63.0" height="48.0" fill="#ffffff"/><rect x="798.3" y="1822.0" width="63.0" height="48.0" fill="#ffe0e0"/><rect x="868.1" y="1822.0" width="63.0" height="48.0" fill="#e0e0ff"/><rect x="937.9" y="1822.0" width="63.0" height="48.0" fill="#fffafa"/><rect x="1007.7" y="1822.0" width="63.0" height="48.0" fill="#fff2f2"/><rect x="1077.5" y="1822.0" width="63.0" height="48.0" fill="#f7f7ff"/><rect x="1147.3" y="1822.0" width="63.0" height="48.0" fill="#f2f2ff"/><rect x="1217.1" y="1822.0" width="63.0" height="48.0" fill="#f5f5ff"/><rect x="30.5" y="1877.4" width="63.0" height="48.0" fill="#ffe0e0"/><rect x="100.3" y="1877.4" width="63.0" height="48.0" fill="#ffe0e0"/><rect x="170.1" y="1877.4" width="63.0" height="48.0" fill="#ffe6e6"/><rect x="239.9" y="1877.4" width="63.0" height="48.0" fill="#ffbfbf"/><rect x="309.7" y="1877.4" width="63.0" height="48.0" fill="#ffc7c7"/><rect x="379.5" y="1877.4" width="63.0" height="48.0" fill="#ffc7c7"/><rect x="449.3" y="1877.4" width="63.0" height="48.0" fill="#ffd4d4"/><rect x="519.1" y="1877.4" width="63.0" height="48.0" fill="#ffcccc"/><rect x="588.9" y="1877.4" width="63.0" height="48.0" fill="#ffcccc"/><rect x="658.7" y="1877.4" width="63.0" height="48.0" fill="#ffd1d1"/><rect x="728.5" y="1877.4" width="63.0" height="48.0" fill="#ffcccc"/><rect x="798.3" y="1877.4" width="63.0" height="48.0" fill="#ffc7c7"/><rect x="868.1" y="1877.4" width="63.0" height="48.0" fill="#fff7f7"/><rect x="937.9" y="1877.4" width="63.0" height="48.0" fill="#ffd9d9"/><rect x="1007.7" y="1877.4" width="63.0" height="48.0" fill="#ffe0e0"/><rect x="1077.5" y="1877.4" width="63.0" height="48.0" fill="#ffe6e6"/><rect x="1147.3" y="1877.4" width="63.0" height="48.0" fill="#fff7f7"/><rect x="1217.1" y="1877.4" width="63.0" height="48.0" fill="#fff0f0"/><rect x="30.5" y="1932.8" width="63.0" height="48.0" fill="#ff5757"/><rect x="100.3" y="1932.8" width="63.0" height="48.0" fill="#ff5454"/><rect x="170.1" y="1932.8" width="63.0" height="48.0" fill="#ff5e5e"/><rect x="239.9" y="1932.8" width="63.0" height="48.0" fill="#ff3838"/><rect x="309.7" y="1932.8" width="63.0" height="48.0" fill="#ff3d3d"/><rect x="379.5" y="1932.8" width="63.0" height="48.0" fill="#ff4040"/><rect x="449.3" y="1932.8" width="63.0" height="48.0" fill="#ff4747"/><rect x="519.1" y="1932.8" width="63.0" height="48.0" fill="#ff4d4d"/><rect x="588.9" y="1932.8" width="63.0" height="48.0" fill="#ff4d4d"/><rect x="658.7" y="1932.8" width="63.0" height="48.0" fill="#ff5959"/><rect x="728.5" y="1932.8" width="63.0" height="48.0" fill="#ff4747"/><rect x="798.3" y="1932.8" width="63.0" height="48.0" fill="#ff1414"/><rect x="868.1" y="1932.8" width="63.0" height="48.0" fill="#ff7373"/><rect x="937.9" y="1932.8" width="63.0" height="48.0" fill="#ff4040"/><rect x="1007.7" y="1932.8" width="63.0" height="48.0" fill="#ff4040"/><rect x="1077.5" y="1932.8" width="63.0" height="48.0" fill="#ff7373"/><rect x="1147.3" y="1932.8" width="63.0" height="48.0" fill="#ff7373"/><rect x="1217.1" y="1932.8" width="63.0" height="48.0" fill="#ff7373"/><rect x="30.5" y="1988.3" width="63.0" height="48.0" fill="#ff7d7d"/><rect x="100.3" y="1988.3" width="63.0" height="48.0" fill="#ff7878"/><rect x="170.1" y="1988.3" width="63.0" height="48.0" fill="#ff8c8c"/><rect x="239.9" y="1988.3" width="63.0" height="48.0" fill="#ff8080"/><rect x="309.7" y="1988.3" width="63.0" height="48.0" fill="#ff8787"/><rect x="379.5" y="1988.3" width="63.0" height="48.0" fill="#ff8787"/><rect x="449.3" y="1988.3" width="63.0" height="48.0" fill="#ffa6a6"/><rect x="519.1" y="1988.3" width="63.0" height="48.0" fill="#ffabab"/><rect x="588.9" y="1988.3" width="63.0" height="48.0" fill="#ffabab"/><rect x="658.7" y="1988.3" width="63.0" height="48.0" fill="#ff8f8f"/><rect x="728.5" y="1988.3" width="63.0" height="48.0" fill="#ff7a7a"/><rect x="798.3" y="1988.3" width="63.0" height="48.0" fill="#ff6666"/><rect x="868.1" y="1988.3" width="63.0" height="48.0" fill="#ffb8b8"/><rect x="937.9" y="1988.3" width="63.0" height="48.0" fill="#ff8080"/><rect x="1007.7" y="1988.3" width="63.0" height="48.0" fill="#ff8c8c"/><rect x="1077.5" y="1988.3" width="63.0" height="48.0" fill="#ff8c8c"/><rect x="1147.3" y="1988.3" width="63.0" height="48.0" fill="#ff9999"/><rect x="1217.1" y="1988.3" width="63.0" height="48.0" fill="#ff9999"/><rect x="30.5" y="2043.7" width="63.0" height="48.0" fill="#ff6e6e"/><rect x="100.3" y="2043.7" width="63.0" height="48.0" fill="#ff6e6e"/><rect x="170.1" y="2043.7" width="63.0" height="48.0" fill="#ff7373"/><rect x="239.9" y="2043.7" width="63.0" height="48.0" fill="#ff9696"/><rect x="309.7" y="2043.7" width="63.0" height="48.0" fill="#ff9c9c"/><rect x="379.5" y="2043.7" width="63.0" height="48.0" fill="#ff9696"/><rect x="449.3" y="2043.7" width="63.0" height="48.0" fill="#ff9e9e"/><rect x="519.1" y="2043.7" width="63.0" height="48.0" fill="#ffa6a6"/><rect x="588.9" y="2043.7" width="63.0" height="48.0" fill="#ff9999"/><rect x="658.7" y="2043.7" width="63.0" height="48.0" fill="#ff9999"/><rect x="728.5" y="2043.7" width="63.0" height="48.0" fill="#ff6e6e"/><rect x="798.3" y="2043.7" width="63.0" height="48.0" fill="#ff4f4f"/><rect x="868.1" y="2043.7" width="63.0" height="48.0" fill="#ffbfbf"/><rect x="937.9" y="2043.7" width="63.0" height="48.0" fill="#ff7373"/><rect x="1007.7" y="2043.7" width="63.0" height="48.0" fill="#ff7373"/><rect x="1077.5" y="2043.7" width="63.0" height="48.0" fill="#ffa6a6"/><rect x="1147.3" y="2043.7" width="63.0" height="48.0" fill="#ffabab"/><rect x="1217.1" y="2043.7" width="63.0" height="48.0" fill="#ffabab"/><rect x="30.5" y="2099.1" width="63.0" height="48.0" fill="#ffe6e6"/><rect x="100.3" y="2099.1" width="63.0" height="48.0" fill="#ffe6e6"/><rect x="170.1" y="2099.1" width="63.0" height="48.0" fill="#ffebeb"/><rect x="239.9" y="2099.1" width="63.0" height="48.0" fill="#ffc7c7"/><rect x="309.7" y="2099.1" width="63.0" height="48.0" fill="#ffd4d4"/><rect x="379.5" y="2099.1" width="63.0" height="48.0" fill="#ffd4d4"/><rect x="449.3" y="2099.1" width="63.0" height="48.0" fill="#ffd9d9"/><rect x="519.1" y="2099.1" width="63.0" height="48.0" fill="#ffd4d4"/><rect x="588.9" y="2099.1" width="63.0" height="48.0" fill="#ffd9d9"/><rect x="658.7" y="2099.1" width="63.0" height="48.0" fill="#ffd9d9"/><rect x="728.5" y="2099.1" width="63.0" height="48.0" fill="#ffd4d4"/><rect x="798.3" y="2099.1" width="63.0" height="48.0" fill="#ffd4d4"/><rect x="868.1" y="2099.1" width="63.0" height="48.0" fill="#ffeded"/><rect x="937.9" y="2099.1" width="63.0" height="48.0" fill="#ffdede"/><rect x="1007.7" y="2099.1" width="63.0" height="48.0" fill="#ffe0e0"/><rect x="1077.5" y="2099.1" width="63.0" height="48.0" fill="#ffe6e6"/><rect x="1147.3" y="2099.1" width="63.0" height="48.0" fill="#ffe6e6"/><rect x="1217.1" y="2099.1" width="63.0" height="48.0" fill="#ffe6e6"/><rect x="30.5" y="2154.5" width="63.0" height="48.0" fill="#ff0000"/><rect x="100.3" y="2154.5" width="63.0" height="48.0" fill="#ff0000"/><rect x="170.1" y="2154.5" width="63.0" height="48.0" fill="#ff0000"/><rect x="239.9" y="2154.5" width="63.0" height="48.0" fill="#ff3333"/><rect x="309.7" y="2154.5" width="63.0" height="48.0" fill="#ff3838"/><rect x="379.5" y="2154.5" width="63.0" height="48.0" fill="#ff4040"/><rect x="449.3" y="2154.5" width="63.0" height="48.0" fill="#ff2121"/><rect x="519.1" y="2154.5" width="63.0" height="48.0" fill="#ff4040"/><rect x="588.9" y="2154.5" width="63.0" height="48.0" fill="#ff3838"/><rect x="658.7" y="2154.5" width="63.0" height="48.0" fill="#ff4040"/><rect x="728.5" y="2154.5" width="63.0" height="48.0" fill="#ff4040"/><rect x="798.3" y="2154.5" width="63.0" height="48.0" fill="#ff3838"/><rect x="868.1" y="2154.5" width="63.0" height="48.0" fill="#ff0000"/><rect x="937.9" y="2154.5" width="63.0" height="48.0" fill="#ff0000"/><rect x="1007.7" y="2154.5" width="63.0" height="48.0" fill="#ff0000"/><rect x="1077.5" y="2154.5" width="63.0" height="48.0" fill="#ff0000"/><rect x="1147.3" y="2154.5" width="63.0" height="48.0" fill="#ff0000"/><rect x="1217.1" y="2154.5" width="63.0" height="48.0" fill="#ff0000"/><rect x="30.5" y="2209.9" width="63.0" height="48.0" fill="#8c8cff"/><rect x="100.3" y="2209.9" width="63.0" height="48.0" fill="#9494ff"/><rect x="170.1" y="2209.9" width="63.0" height="48.0" fill="#8c8cff"/><rect x="239.9" y="2209.9" width="63.0" height="48.0" fill="#9494ff"/><rect x="309.7" y="2209.9" width="63.0" height="48.0" fill="#8c8cff"/><rect x="379.5" y="2209.9" width="63.0" height="48.0" fill="#8c8cff"/><rect x="449.3" y="2209.9" width="63.0" height="48.0" fill="#8c8cff"/><rect x="519.1" y="2209.9" width="63.0" height="48.0" fill="#8585ff"/><rect x="588.9" y="2209.9" width="63.0" height="48.0" fill="#8585ff"/><rect x="658.7" y="2209.9" width="63.0" height="48.0" fill="#8787ff"/><rect x="728.5" y="2209.9" width="63.0" height="48.0" fill="#9494ff"/><rect x="798.3" y="2209.9" width="63.0" height="48.0" fill="#8080ff"/><rect x="868.1" y="2209.9" width="63.0" height="48.0" fill="#8c8cff"/><rect x="937.9" y="2209.9" width="63.0" height="48.0" fill="#8282ff"/><rect x="1007.7" y="2209.9" width="63.0" height="48.0" fill="#7d7dff"/><rect x="1077.5" y="2209.9" width="63.0" height="48.0" fill="#8787ff"/><rect x="1147.3" y="2209.9" width="63.0" height="48.0" fill="#9696ff"/><rect x="1217.1" y="2209.9" width="63.0" height="48.0" fill="#9696ff"/><rect x="30.5" y="2265.4" width="63.0" height="48.0" fill="#ff9e9e"/><rect x="100.3" y="2265.4" width="63.0" height="48.0" fill="#ff9e9e"/><rect x="170.1" y="2265.4" width="63.0" height="48.0" fill="#ff9999"/><rect x="239.9" y="2265.4" width="63.0" height="48.0" fill="#ff7373"/><rect x="309.7" y="2265.4" width="63.0" height="48.0" fill="#ff7373"/><rect x="379.5" y="2265.4" width="63.0" height="48.0" fill="#ff8080"/><rect x="449.3" y="2265.4" width="63.0" height="48.0" fill="#ff8080"/><rect x="519.1" y="2265.4" width="63.0" height="48.0" fill="#ff8585"/><rect x="588.9" y="2265.4" width="63.0" height="48.0" fill="#ff8080"/><rect x="658.7" y="2265.4" width="63.0" height="48.0" fill="#ff8585"/><rect x="728.5" y="2265.4" width="63.0" height="48.0" fill="#ff7a7a"/><rect x="798.3" y="2265.4" width="63.0" height="48.0" fill="#ff7373"/><rect x="868.1" y="2265.4" width="63.0" height="48.0" fill="#ffbaba"/><rect x="937.9" y="2265.4" width="63.0" height="48.0" fill="#ff9191"/><rect x="1007.7" y="2265.4" width="63.0" height="48.0" fill="#ff9c9c"/><rect x="1077.5" y="2265.4" width="63.0" height="48.0" fill="#ffa6a6"/><rect x="1147.3" y="2265.4" width="63.0" height="48.0" fill="#ffc7c7"/><rect x="1217.1" y="2265.4" width="63.0" height="48.0" fill="#ffb5b5"/><rect x="30.5" y="2320.8" width="63.0" height="48.0" fill="#f5f5ff"/><rect x="100.3" y="2320.8" width="63.0" height="48.0" fill="#f2f2ff"/><rect x="170.1" y="2320.8" width="63.0" height="48.0" fill="#f0f0ff"/><rect x="239.9" y="2320.8" width="63.0" height="48.0" fill="#fffafa"/><rect x="309.7" y="2320.8" width="63.0" height="48.0" fill="#ffffff"/><rect x="379.5" y="2320.8" width="63.0" height="48.0" fill="#d9d9ff"/><rect x="449.3" y="2320.8" width="63.0" height="48.0" fill="#ccccff"/><rect x="519.1" y="2320.8" width="63.0" height="48.0" fill="#ccccff"/><rect x="588.9" y="2320.8" width="63.0" height="48.0" fill="#ccccff"/><rect x="658.7" y="2320.8" width="63.0" height="48.0" fill="#d9d9ff"/><rect x="728.5" y="2320.8" width="63.0" height="48.0" fill="#f5f5ff"/><rect x="798.3" y="2320.8" width="63.0" height="48.0" fill="#fff0f0"/><rect x="868.1" y="2320.8" width="63.0" height="48.0" fill="#c7c7ff"/><rect x="937.9" y="2320.8" width="63.0" height="48.0" fill="#e6e6ff"/><rect x="1007.7" y="2320.8" width="63.0" height="48.0" fill="#ebebff"/><rect x="1077.5" y="2320.8" width="63.0" height="48.0" fill="#d1d1ff"/><rect x="1147.3" y="2320.8" width="63.0" height="48.0" fill="#b8b8ff"/><rect x="1217.1" y="2320.8" width="63.0" height="48.0" fill="#b2b2ff"/><rect x="30.5" y="2376.2" width="63.0" height="48.0" fill="#9999ff"/><rect x="100.3" y="2376.2" width="63.0" height="48.0" fill="#9e9eff"/><rect x="170.1" y="2376.2" width="63.0" height="48.0" fill="#8c8cff"/><rect x="239.9" y="2376.2" width="63.0" height="48.0" fill="#dedeff"/><rect x="309.7" y="2376.2" width="63.0" height="48.0" fill="#babaff"/><rect x="379.5" y="2376.2" width="63.0" height="48.0" fill="#b2b2ff"/><rect x="449.3" y="2376.2" width="63.0" height="48.0" fill="#9191ff"/><rect x="519.1" y="2376.2" width="63.0" height="48.0" fill="#9e9eff"/><rect x="588.9" y="2376.2" width="63.0" height="48.0" fill="#a1a1ff"/><rect x="658.7" y="2376.2" width="63.0" height="48.0" fill="#8585ff"/><rect x="728.5" y="2376.2" width="63.0" height="48.0" fill="#4747ff"/><rect x="798.3" y="2376.2" width="63.0" height="48.0" fill="#a1a1ff"/><rect x="868.1" y="2376.2" width="63.0" height="48.0" fill="#ababff"/><rect x="937.9" y="2376.2" width="63.0" height="48.0" fill="#a1a1ff"/><rect x="1007.7" y="2376.2" width="63.0" height="48.0" fill="#a1a1ff"/><rect x="1077.5" y="2376.2" width="63.0" height="48.0" fill="#ababff"/><rect x="1147.3" y="2376.2" width="63.0" height="48.0" fill="#b0b0ff"/><rect x="1217.1" y="2376.2" width="63.0" height="48.0" fill="#bfbfff"/><rect x="30.5" y="2431.6" width="63.0" height="48.0" fill="#ffd9d9"/><rect x="100.3" y="2431.6" width="63.0" height="48.0" fill="#ffd4d4"/><rect x="170.1" y="2431.6" width="63.0" height="48.0" fill="#ffd4d4"/><rect x="239.9" y="2431.6" width="63.0" height="48.0" fill="#fafaff"/><rect x="309.7" y="2431.6" width="63.0" height="48.0" fill="#f2f2ff"/><rect x="379.5" y="2431.6" width="63.0" height="48.0" fill="#dedeff"/><rect x="449.3" y="2431.6" width="63.0" height="48.0" fill="#fff7f7"/><rect x="519.1" y="2431.6" width="63.0" height="48.0" fill="#fff7f7"/><rect x="588.9" y="2431.6" width="63.0" height="48.0" fill="#fff2f2"/><rect x="658.7" y="2431.6" width="63.0" height="48.0" fill="#f0f0ff"/><rect x="728.5" y="2431.6" width="63.0" height="48.0" fill="#fafaff"/><rect x="798.3" y="2431.6" width="63.0" height="48.0" fill="#fff0f0"/><rect x="868.1" y="2431.6" width="63.0" height="48.0" fill="#e6e6ff"/><rect x="937.9" y="2431.6" width="63.0" height="48.0" fill="#fff5f5"/><rect x="1007.7" y="2431.6" width="63.0" height="48.0" fill="#fff2f2"/><rect x="1077.5" y="2431.6" width="63.0" height="48.0" fill="#fff0f0"/><rect x="1147.3" y="2431.6" width="63.0" height="48.0" fill="#ffffff"/><rect x="1217.1" y="2431.6" width="63.0" height="48.0" fill="#fff7f7"/><rect x="30.5" y="2487.0" width="63.0" height="48.0" fill="#ff3838"/><rect x="100.3" y="2487.0" width="63.0" height="48.0" fill="#ff4040"/><rect x="170.1" y="2487.0" width="63.0" height="48.0" fill="#ff4040"/><rect x="239.9" y="2487.0" width="63.0" height="48.0" fill="#ff7373"/><rect x="309.7" y="2487.0" width="63.0" height="48.0" fill="#ff8080"/><rect x="379.5" y="2487.0" width="63.0" height="48.0" fill="#f5f5ff"/><rect x="449.3" y="2487.0" width="63.0" height="48.0" fill="#ff7373"/><rect x="519.1" y="2487.0" width="63.0" height="48.0" fill="#ff8c8c"/><rect x="588.9" y="2487.0" width="63.0" height="48.0" fill="#ff8c8c"/><rect x="658.7" y="2487.0" width="63.0" height="48.0" fill="#ff9999"/><rect x="728.5" y="2487.0" width="63.0" height="48.0" fill="#ff8c8c"/><rect x="798.3" y="2487.0" width="63.0" height="48.0" fill="#ff7373"/><rect x="868.1" y="2487.0" width="63.0" height="48.0" fill="#ff8c8c"/><rect x="937.9" y="2487.0" width="63.0" height="48.0" fill="#ff6666"/><rect x="1007.7" y="2487.0" width="63.0" height="48.0" fill="#ff6666"/><rect x="1077.5" y="2487.0" width="63.0" height="48.0" fill="#ff6b6b"/><rect x="1147.3" y="2487.0" width="63.0" height="48.0" fill="#ff7373"/><rect x="1217.1" y="2487.0" width="63.0" height="48.0" fill="#ff6666"/><rect x="30.5" y="2542.5" width="63.0" height="48.0" fill="#ffebeb"/><rect x="100.3" y="2542.5" width="63.0" height="48.0" fill="#ffe6e6"/><rect x="170.1" y="2542.5" width="63.0" height="48.0" fill="#ffebeb"/><rect x="239.9" y="2542.5" width="63.0" height="48.0" fill="#ffd9d9"/><rect x="309.7" y="2542.5" width="63.0" height="48.0" fill="#ffd4d4"/><rect x="379.5" y="2542.5" width="63.0" height="48.0" fill="#fafaff"/><rect x="449.3" y="2542.5" width="63.0" height="48.0" fill="#ffd9d9"/><rect x="519.1" y="2542.5" width="63.0" height="48.0" fill="#ffd9d9"/><rect x="588.9" y="2542.5" width="63.0" height="48.0" fill="#ffdede"/><rect x="658.7" y="2542.5" width="63.0" height="48.0" fill="#ffdede"/><rect x="728.5" y="2542.5" width="63.0" height="48.0" fill="#ffd9d9"/><rect x="798.3" y="2542.5" width="63.0" height="48.0" fill="#ffd4d4"/><rect x="868.1" y="2542.5" width="63.0" height="48.0" fill="#ffffff"/><rect x="937.9" y="2542.5" width="63.0" height="48.0" fill="#ffe0e0"/><rect x="1007.7" y="2542.5" width="63.0" height="48.0" fill="#ffe0e0"/><rect x="1077.5" y="2542.5" width="63.0" height="48.0" fill="#fff0f0"/><rect x="1147.3" y="2542.5" width="63.0" height="48.0" fill="#fff5f5"/><rect x="1217.1" y="2542.5" width="63.0" height="48.0" fill="#fff0f0"/><rect x="30.5" y="2597.9" width="63.0" height="48.0" fill="#ffbfbf"/><rect x="100.3" y="2597.9" width="63.0" height="48.0" fill="#ffbfbf"/><rect x="170.1" y="2597.9" width="63.0" height="48.0" fill="#ffbfbf"/><rect x="239.9" y="2597.9" width="63.0" height="48.0" fill="#ffadad"/><rect x="309.7" y="2597.9" width="63.0" height="48.0" fill="#ffa6a6"/><rect x="379.5" y="2597.9" width="63.0" height="48.0" fill="#ffb8b8"/><rect x="449.3" y="2597.9" width="63.0" height="48.0" fill="#ffa6a6"/><rect x="519.1" y="2597.9" width="63.0" height="48.0" fill="#ffabab"/><rect x="588.9" y="2597.9" width="63.0" height="48.0" fill="#ff9e9e"/><rect x="658.7" y="2597.9" width="63.0" height="48.0" fill="#ffa6a6"/><rect x="728.5" y="2597.9" width="63.0" height="48.0" fill="#ff9e9e"/><rect x="798.3" y="2597.9" width="63.0" height="48.0" fill="#ff8c8c"/><rect x="868.1" y="2597.9" width="63.0" height="48.0" fill="#ffcccc"/><rect x="937.9" y="2597.9" width="63.0" height="48.0" fill="#ffa6a6"/><rect x="1007.7" y="2597.9" width="63.0" height="48.0" fill="#ffabab"/><rect x="1077.5" y="2597.9" width="63.0" height="48.0" fill="#ffc7c7"/><rect x="1147.3" y="2597.9" width="63.0" height="48.0" fill="#ffc7c7"/><rect x="1217.1" y="2597.9" width="63.0" height="48.0" fill="#ffcccc"/><rect x="30.5" y="2653.3" width="63.0" height="48.0" fill="#ffd1d1"/><rect x="100.3" y="2653.3" width="63.0" height="48.0" fill="#ffc7c7"/><rect x="170.1" y="2653.3" width="63.0" height="48.0" fill="#ffc7c7"/><rect x="239.9" y="2653.3" width="63.0" height="48.0" fill="#ffc2c2"/><rect x="309.7" y="2653.3" width="63.0" height="48.0" fill="#ffc7c7"/><rect x="379.5" y="2653.3" width="63.0" height="48.0" fill="#ffc7c7"/><rect x="449.3" y="2653.3" width="63.0" height="48.0" fill="#ffabab"/><rect x="519.1" y="2653.3" width="63.0" height="48.0" fill="#ffb8b8"/><rect x="588.9" y="2653.3" width="63.0" height="48.0" fill="#ffabab"/><rect x="658.7" y="2653.3" width="63.0" height="48.0" fill="#ffb8b8"/><rect x="728.5" y="2653.3" width="63.0" height="48.0" fill="#ffa6a6"/><rect x="798.3" y="2653.3" width="63.0" height="48.0" fill="#ffa3a3"/><rect x="868.1" y="2653.3" width="63.0" height="48.0" fill="#ffd6d6"/><rect x="937.9" y="2653.3" width="63.0" height="48.0" fill="#ffb0b0"/><rect x="1007.7" y="2653.3" width="63.0" height="48.0" fill="#ffbdbd"/><rect x="1077.5" y="2653.3" width="63.0" height="48.0" fill="#ffc4c4"/><rect x="1147.3" y="2653.3" width="63.0" height="48.0" fill="#ffc4c4"/><rect x="1217.1" y="2653.3" width="63.0" height="48.0" fill="#ffcccc"/><rect x="30.5" y="2708.7" width="63.0" height="48.0" fill="#ff4d4d"/><rect x="100.3" y="2708.7" width="63.0" height="48.0" fill="#ff4747"/><rect x="170.1" y="2708.7" width="63.0" height="48.0" fill="#ff4747"/><rect x="239.9" y="2708.7" width="63.0" height="48.0" fill="#ff1919"/><rect x="309.7" y="2708.7" width="63.0" height="48.0" fill="#ff1919"/><rect x="379.5" y="2708.7" width="63.0" height="48.0" fill="#ff2626"/><rect x="449.3" y="2708.7" width="63.0" height="48.0" fill="#ff0d0d"/><rect x="519.1" y="2708.7" width="63.0" height="48.0" fill="#ff1414"/><rect x="588.9" y="2708.7" width="63.0" height="48.0" fill="#ff1414"/><rect x="658.7" y="2708.7" width="63.0" height="48.0" fill="#ff1414"/><rect x="728.5" y="2708.7" width="63.0" height="48.0" fill="#ff1414"/><rect x="798.3" y="2708.7" width="63.0" height="48.0" fill="#ff2626"/><rect x="868.1" y="2708.7" width="63.0" height="48.0" fill="#ff5252"/><rect x="937.9" y="2708.7" width="63.0" height="48.0" fill="#ff3333"/><rect x="1007.7" y="2708.7" width="63.0" height="48.0" fill="#ff3333"/><rect x="1077.5" y="2708.7" width="63.0" height="48.0" fill="#ff5252"/><rect x="1147.3" y="2708.7" width="63.0" height="48.0" fill="#ff5252"/><rect x="1217.1" y="2708.7" width="63.0" height="48.0" fill="#ff5252"/><rect x="30.5" y="2764.1" width="63.0" height="48.0" fill="#ffe0e0"/><rect x="100.3" y="2764.1" width="63.0" height="48.0" fill="#ffe0e0"/><rect x="170.1" y="2764.1" width="63.0" height="48.0" fill="#ffe6e6"/><rect x="239.9" y="2764.1" width="63.0" height="48.0" fill="#ffd1d1"/><rect x="309.7" y="2764.1" width="63.0" height="48.0" fill="#ffdbdb"/><rect x="379.5" y="2764.1" width="63.0" height="48.0" fill="#ffd9d9"/><rect x="449.3" y="2764.1" width="63.0" height="48.0" fill="#ffd9d9"/><rect x="519.1" y="2764.1" width="63.0" height="48.0" fill="#ffbaba"/><rect x="588.9" y="2764.1" width="63.0" height="48.0" fill="#ffbfbf"/><rect x="658.7" y="2764.1" width="63.0" height="48.0" fill="#ffb8b8"/><rect x="728.5" y="2764.1" width="63.0" height="48.0" fill="#ffbfbf"/><rect x="798.3" y="2764.1" width="63.0" height="48.0" fill="#ff9e9e"/><rect x="868.1" y="2764.1" width="63.0" height="48.0" fill="#ffa6a6"/><rect x="937.9" y="2764.1" width="63.0" height="48.0" fill="#ffabab"/><rect x="1007.7" y="2764.1" width="63.0" height="48.0" fill="#ffbfbf"/><rect x="1077.5" y="2764.1" width="63.0" height="48.0" fill="#ffc7c7"/><rect x="1147.3" y="2764.1" width="63.0" height="48.0" fill="#ffb8b8"/><rect x="1217.1" y="2764.1" width="63.0" height="48.0" fill="#ffbfbf"/><rect x="30.5" y="2819.6" width="63.0" height="48.0" fill="#ff9e9e"/><rect x="100.3" y="2819.6" width="63.0" height="48.0" fill="#ff8c8c"/><rect x="170.1" y="2819.6" width="63.0" height="48.0" fill="#ff9e9e"/><rect x="239.9" y="2819.6" width="63.0" height="48.0" fill="#ff9494"/><rect x="309.7" y="2819.6" width="63.0" height="48.0" fill="#ff8080"/><rect x="379.5" y="2819.6" width="63.0" height="48.0" fill="#ffe6e6"/><rect x="449.3" y="2819.6" width="63.0" height="48.0" fill="#ff5252"/><rect x="519.1" y="2819.6" width="63.0" height="48.0" fill="#ff6666"/><rect x="588.9" y="2819.6" width="63.0" height="48.0" fill="#ff6666"/><rect x="658.7" y="2819.6" width="63.0" height="48.0" fill="#ff6666"/><rect x="728.5" y="2819.6" width="63.0" height="48.0" fill="#ff7373"/><rect x="798.3" y="2819.6" width="63.0" height="48.0" fill="#ff8080"/><rect x="868.1" y="2819.6" width="63.0" height="48.0" fill="#ff5959"/><rect x="937.9" y="2819.6" width="63.0" height="48.0" fill="#ff6161"/><rect x="1007.7" y="2819.6" width="63.0" height="48.0" fill="#ff6666"/><rect x="1077.5" y="2819.6" width="63.0" height="48.0" fill="#ff6161"/><rect x="1147.3" y="2819.6" width="63.0" height="48.0" fill="#ff5959"/><rect x="1217.1" y="2819.6" width="63.0" height="48.0" fill="#ff1919"/><rect x="30.5" y="2875.0" width="63.0" height="48.0" fill="#ff4d4d"/><rect x="100.3" y="2875.0" width="63.0" height="48.0" fill="#ff4d4d"/><rect x="170.1" y="2875.0" width="63.0" height="48.0" fill="#ff4d4d"/><rect x="239.9" y="2875.0" width="63.0" height="48.0" fill="#ff1414"/><rect x="309.7" y="2875.0" width="63.0" height="48.0" fill="#ff1414"/><rect x="379.5" y="2875.0" width="63.0" height="48.0" fill="#ff0d0d"/><rect x="449.3" y="2875.0" width="63.0" height="48.0" fill="#ff1414"/><rect x="519.1" y="2875.0" width="63.0" height="48.0" fill="#ff1414"/><rect x="588.9" y="2875.0" width="63.0" height="48.0" fill="#ff1919"/><rect x="658.7" y="2875.0" width="63.0" height="48.0" fill="#ff1414"/><rect x="728.5" y="2875.0" width="63.0" height="48.0" fill="#ff1414"/><rect x="798.3" y="2875.0" width="63.0" height="48.0" fill="#ff2929"/><rect x="868.1" y="2875.0" width="63.0" height="48.0" fill="#ff5757"/><rect x="937.9" y="2875.0" width="63.0" height="48.0" fill="#ff3d3d"/><rect x="1007.7" y="2875.0" width="63.0" height="48.0" fill="#ff3333"/><rect x="1077.5" y="2875.0" width="63.0" height="48.0" fill="#ff5c5c"/><rect x="1147.3" y="2875.0" width="63.0" height="48.0" fill="#ff5c5c"/><rect x="1217.1" y="2875.0" width="63.0" height="48.0" fill="#ff6161"/><rect x="30.5" y="2930.4" width="63.0" height="48.0" fill="#ff6161"/><rect x="100.3" y="2930.4" width="63.0" height="48.0" fill="#ff6666"/><rect x="170.1" y="2930.4" width="63.0" height="48.0" fill="#ff7373"/><rect x="239.9" y="2930.4" width="63.0" height="48.0" fill="#ff2e2e"/><rect x="309.7" y="2930.4" width="63.0" height="48.0" fill="#ff2e2e"/><rect x="379.5" y="2930.4" width="63.0" height="48.0" fill="#ff3333"/><rect x="449.3" y="2930.4" width="63.0" height="48.0" fill="#ff2424"/><rect x="519.1" y="2930.4" width="63.0" height="48.0" fill="#ff2626"/><rect x="588.9" y="2930.4" width="63.0" height="48.0" fill="#ff1919"/><rect x="658.7" y="2930.4" width="63.0" height="48.0" fill="#ff2626"/><rect x="728.5" y="2930.4" width="63.0" height="48.0" fill="#ff1212"/><rect x="798.3" y="2930.4" width="63.0" height="48.0" fill="#ff5c5c"/><rect x="868.1" y="2930.4" width="63.0" height="48.0" fill="#ff6e6e"/><rect x="937.9" y="2930.4" width="63.0" height="48.0" fill="#ff5e5e"/><rect x="1007.7" y="2930.4" width="63.0" height="48.0" fill="#ff6969"/><rect x="1077.5" y="2930.4" width="63.0" height="48.0" fill="#ff5e5e"/><rect x="1147.3" y="2930.4" width="63.0" height="48.0" fill="#ff6e6e"/><rect x="1217.1" y="2930.4" width="63.0" height="48.0" fill="#ff7878"/><rect x="30.5" y="2985.8" width="63.0" height="48.0" fill="#ffbfbf"/><rect x="100.3" y="2985.8" width="63.0" height="48.0" fill="#ffbfbf"/><rect x="170.1" y="2985.8" width="63.0" height="48.0" fill="#ffb2b2"/><rect x="239.9" y="2985.8" width="63.0" height="48.0" fill="#ffa6a6"/><rect x="309.7" y="2985.8" width="63.0" height="48.0" fill="#ff9e9e"/><rect x="379.5" y="2985.8" width="63.0" height="48.0" fill="#ff8585"/><rect x="449.3" y="2985.8" width="63.0" height="48.0" fill="#ffadad"/><rect x="519.1" y="2985.8" width="63.0" height="48.0" fill="#ffadad"/><rect x="588.9" y="2985.8" width="63.0" height="48.0" fill="#ff8585"/><rect x="658.7" y="2985.8" width="63.0" height="48.0" fill="#ffa6a6"/><rect x="728.5" y="2985.8" width="63.0" height="48.0" fill="#ff8c8c"/><rect x="798.3" y="2985.8" width="63.0" height="48.0" fill="#ff8585"/><rect x="868.1" y="2985.8" width="63.0" height="48.0" fill="#ffd9d9"/><rect x="937.9" y="2985.8" width="63.0" height="48.0" fill="#ffb5b5"/><rect x="1007.7" y="2985.8" width="63.0" height="48.0" fill="#ffbfbf"/><rect x="1077.5" y="2985.8" width="63.0" height="48.0" fill="#ffabab"/><rect x="1147.3" y="2985.8" width="63.0" height="48.0" fill="#ffd9d9"/><rect x="1217.1" y="2985.8" width="63.0" height="48.0" fill="#ffe0e0"/><rect x="30.5" y="3041.2" width="63.0" height="48.0" fill="#ffabab"/><rect x="100.3" y="3041.2" width="63.0" height="48.0" fill="#ffb2b2"/><rect x="170.1" y="3041.2" width="63.0" height="48.0" fill="#ffadad"/><rect x="239.9" y="3041.2" width="63.0" height="48.0" fill="#ff8c8c"/><rect x="309.7" y="3041.2" width="63.0" height="48.0" fill="#ff8c8c"/><rect x="379.5" y="3041.2" width="63.0" height="48.0" fill="#ff8c8c"/><rect x="449.3" y="3041.2" width="63.0" height="48.0" fill="#ff8080"/><rect x="519.1" y="3041.2" width="63.0" height="48.0" fill="#ff8787"/><rect x="588.9" y="3041.2" width="63.0" height="48.0" fill="#ff8080"/><rect x="658.7" y="3041.2" width="63.0" height="48.0" fill="#ff8787"/><rect x="728.5" y="3041.2" width="63.0" height="48.0" fill="#ff7878"/><rect x="798.3" y="3041.2" width="63.0" height="48.0" fill="#ff7878"/><rect x="868.1" y="3041.2" width="63.0" height="48.0" fill="#ffb2b2"/><rect x="937.9" y="3041.2" width="63.0" height="48.0" fill="#ff8c8c"/><rect x="1007.7" y="3041.2" width="63.0" height="48.0" fill="#ff8c8c"/><rect x="1077.5" y="3041.2" width="63.0" height="48.0" fill="#ffb2b2"/><rect x="1147.3" y="3041.2" width="63.0" height="48.0" fill="#ffb2b2"/><rect x="1217.1" y="3041.2" width="63.0" height="48.0" fill="#ffb2b2"/></g>
<text class="rl" x="1287.9" y="479.4" textLength="123.6" lengthAdjust="spacingAndGlyphs">IL-1a</text>
<text class="rl" x="1287.9" y="534.8" textLength="127.2" lengthAdjust="spacingAndGlyphs">IL-17</text>
<text class="rl" x="1287.9" y="590.2" textLength="186.7" lengthAdjust="spacingAndGlyphs">Eotaxin</text>
<text class="rl" x="1287.9" y="645.7" textLength="167.7" lengthAdjust="spacingAndGlyphs">IFN-a2</text>
<text class="rl" x="1288.0" y="701.1" textLength="157.5" lengthAdjust="spacingAndGlyphs">IL-2Ra</text>
<text class="rl" x="1290.0" y="756.5" textLength="127.0" lengthAdjust="spacingAndGlyphs">bFGF</text>
<text class="rl" x="1287.8" y="811.9" textLength="98.2" lengthAdjust="spacingAndGlyphs">IL-4</text>
<text class="rl" x="1292.0" y="867.3" textLength="145.5" lengthAdjust="spacingAndGlyphs">TRAIL</text>
<text class="rl" x="1291.0" y="922.8" textLength="147.0" lengthAdjust="spacingAndGlyphs">G-CSF</text>
<text class="rl" x="1288.9" y="978.2" textLength="161.6" lengthAdjust="spacingAndGlyphs">MCP-3</text>
<text class="rl" x="1290.0" y="1033.6" textLength="157.5" lengthAdjust="spacingAndGlyphs">b-NGF</text>
<text class="rl" x="1289.0" y="1089.0" textLength="171.5" lengthAdjust="spacingAndGlyphs">MIP-1a</text>
<text class="rl" x="1287.9" y="1138.4" textLength="220.1" lengthAdjust="spacingAndGlyphs">IL-12p40</text>
<text class="rl" x="1288.9" y="1199.9" textLength="74.2" lengthAdjust="spacingAndGlyphs">LIF</text>
<text class="rl" x="1291.0" y="1255.3" textLength="90.5" lengthAdjust="spacingAndGlyphs">SCF</text>
<text class="rl" x="1287.8" y="1310.7" textLength="128.7" lengthAdjust="spacingAndGlyphs">IL-18</text>
<text class="rl" x="1287.8" y="1366.1" textLength="130.2" lengthAdjust="spacingAndGlyphs">IL-1b</text>
<text class="rl" x="1287.9" y="1415.5" textLength="220.1" lengthAdjust="spacingAndGlyphs">IL-12p70</text>
<text class="rl" x="1291.0" y="1477.0" textLength="157.5" lengthAdjust="spacingAndGlyphs">CTACK</text>
<text class="rl" x="1287.8" y="1532.4" textLength="96.3" lengthAdjust="spacingAndGlyphs">IL-5</text>
<text class="rl" x="1287.9" y="1587.8" textLength="179.1" lengthAdjust="spacingAndGlyphs">MIP-1b</text>
<text class="rl" x="1290.0" y="1643.2" textLength="196.5" lengthAdjust="spacingAndGlyphs">GM-CSF</text>
<text class="rl" x="1287.8" y="1698.6" textLength="96.3" lengthAdjust="spacingAndGlyphs">IL-7</text>
<text class="rl" x="1287.8" y="1754.1" textLength="97.8" lengthAdjust="spacingAndGlyphs">IL-8</text>
<text class="rl" x="1287.8" y="1803.5" textLength="139.8" lengthAdjust="spacingAndGlyphs">IFN-g</text>
<text class="rl" x="1287.8" y="1864.9" textLength="97.8" lengthAdjust="spacingAndGlyphs">IL-2</text>
<text class="rl" x="1291.0" y="1920.3" textLength="168.5" lengthAdjust="spacingAndGlyphs">SDF-1a</text>
<text class="rl" x="1288.0" y="1975.7" textLength="157.5" lengthAdjust="spacingAndGlyphs">IL-1Ra</text>
<text class="rl" x="1289.0" y="2031.2" textLength="194.6" lengthAdjust="spacingAndGlyphs">RANTES</text>
<text class="rl" x="1292.0" y="2086.6" textLength="142.5" lengthAdjust="spacingAndGlyphs">TNF-a</text>
<text class="rl" x="1292.0" y="2142.0" textLength="147.5" lengthAdjust="spacingAndGlyphs">TNF-b</text>
<text class="rl" x="1290.0" y="2197.4" textLength="157.5" lengthAdjust="spacingAndGlyphs">GRO-a</text>
<text class="rl" x="1287.8" y="2252.8" textLength="97.8" lengthAdjust="spacingAndGlyphs">IL-3</text>
<text class="rl" x="1287.9" y="2308.3" textLength="127.2" lengthAdjust="spacingAndGlyphs">IL-15</text>
<text class="rl" x="1288.9" y="2363.7" textLength="157.1" lengthAdjust="spacingAndGlyphs">M-CSF</text>
<text class="rl" x="1287.9" y="2419.1" textLength="127.2" lengthAdjust="spacingAndGlyphs">IL-13</text>
<text class="rl" x="1287.9" y="2474.5" textLength="127.2" lengthAdjust="spacingAndGlyphs">IL-10</text>
<text class="rl" x="1287.8" y="2529.9" textLength="96.3" lengthAdjust="spacingAndGlyphs">IL-6</text>
<text class="rl" x="1287.8" y="2585.4" textLength="96.3" lengthAdjust="spacingAndGlyphs">IL-9</text>
<text class="rl" x="1288.9" y="2640.8" textLength="106.7" lengthAdjust="spacingAndGlyphs">HGF</text>
<text class="rl" x="1289.0" y="2696.2" textLength="223.6" lengthAdjust="spacingAndGlyphs">PDGF-BB</text>
<text class="rl" x="1291.0" y="2751.6" textLength="177.5" lengthAdjust="spacingAndGlyphs">SCGF-b</text>
<text class="rl" x="1288.8" y="2807.0" textLength="105.8" lengthAdjust="spacingAndGlyphs">MIG</text>
<text class="rl" x="1287.8" y="2862.5" textLength="114.2" lengthAdjust="spacingAndGlyphs">IP10</text>
<text class="rl" x="1288.9" y="2917.9" textLength="153.6" lengthAdjust="spacingAndGlyphs">MCP-1</text>
<text class="rl" x="1288.9" y="2973.3" textLength="93.7" lengthAdjust="spacingAndGlyphs">MIF</text>
<text class="rl" x="1293.0" y="3028.7" textLength="129.0" lengthAdjust="spacingAndGlyphs">VEGF</text>
<text class="rl" x="1287.9" y="3084.1" textLength="127.2" lengthAdjust="spacingAndGlyphs">IL-16</text>
<text class="rl" x="1291" y="422">id</text>
<text class="cl" text-anchor="end" transform="translate(73.5,3103.5) rotate(-90)" textLength="242" lengthAdjust="spacingAndGlyphs">UCB-MC(1)</text>
<text class="cl" text-anchor="end" transform="translate(143.3,3103.5) rotate(-90)" textLength="474" lengthAdjust="spacingAndGlyphs">UCB-MC+Ad5-GFP(1)</text>
<text class="cl" text-anchor="end" transform="translate(213.1,3103.5) rotate(-90)" textLength="580.7" lengthAdjust="spacingAndGlyphs">UCB-MC+Ad5-VEGF165(1)</text>
<text class="cl" text-anchor="end" transform="translate(282.9,3103.5) rotate(-90)" textLength="242" lengthAdjust="spacingAndGlyphs">UCB-MC(5)</text>
<text class="cl" text-anchor="end" transform="translate(352.7,3103.5) rotate(-90)" textLength="474" lengthAdjust="spacingAndGlyphs">UCB-MC+Ad5-GFP(5)</text>
<text class="cl" text-anchor="end" transform="translate(422.5,3103.5) rotate(-90)" textLength="580.7" lengthAdjust="spacingAndGlyphs">UCB-MC+Ad5-VEGF165(5)</text>
<text class="cl" text-anchor="end" transform="translate(492.3,3103.5) rotate(-90)" textLength="474" lengthAdjust="spacingAndGlyphs">UCB-MC+Ad5-GFP(6)</text>
<text class="cl" text-anchor="end" transform="translate(562.1,3103.5) rotate(-90)" textLength="242" lengthAdjust="spacingAndGlyphs">UCB-MC(6)</text>
<text class="cl" text-anchor="end" transform="translate(631.9,3103.5) rotate(-90)" textLength="580.7" lengthAdjust="spacingAndGlyphs">UCB-MC+Ad5-VEGF165(6)</text>
<text class="cl" text-anchor="end" transform="translate(701.7,3103.5) rotate(-90)" textLength="474" lengthAdjust="spacingAndGlyphs">UCB-MC+Ad5-GFP(4)</text>
<text class="cl" text-anchor="end" transform="translate(771.5,3103.5) rotate(-90)" textLength="580.7" lengthAdjust="spacingAndGlyphs">UCB-MC+Ad5-VEGF165(4)</text>
<text class="cl" text-anchor="end" transform="translate(841.3,3103.5) rotate(-90)" textLength="580.7" lengthAdjust="spacingAndGlyphs">UCB-MC+Ad5-VEGF165(3)</text>
<text class="cl" text-anchor="end" transform="translate(911.1,3103.5) rotate(-90)" textLength="242" lengthAdjust="spacingAndGlyphs">UCB-MC(4)</text>
<text class="cl" text-anchor="end" transform="translate(980.9,3103.5) rotate(-90)" textLength="242" lengthAdjust="spacingAndGlyphs">UCB-MC(3)</text>
<text class="cl" text-anchor="end" transform="translate(1050.7,3103.5) rotate(-90)" textLength="474" lengthAdjust="spacingAndGlyphs">UCB-MC+Ad5-GFP(3)</text>
<text class="cl" text-anchor="end" transform="translate(1120.5,3103.5) rotate(-90)" textLength="242" lengthAdjust="spacingAndGlyphs">UCB-MC(2)</text>
<text class="cl" text-anchor="end" transform="translate(1190.3,3103.5) rotate(-90)" textLength="474" lengthAdjust="spacingAndGlyphs">UCB-MC+Ad5-GFP(2)</text>
<text class="cl" text-anchor="end" transform="translate(1260.1,3103.5) rotate(-90)" textLength="580.7" lengthAdjust="spacingAndGlyphs">UCB-MC+Ad5-VEGF165(2)</text>
<path d="M127.5 410.0V28.5H756.7V101.5M92.5 418.5V410.0H197.5V423.0M57.5 423.0V418.5H127.5V423.0M338.3 239.0V101.5H861.3V230.0M303.0 407.5V239.0H409.0V423.0M267.5 423.0V407.5H338.5V423.0M652.0 264.5V230.0H1070.6V321.5M617.1 348.5V264.5H826.5V423.0M547.5 400.5V348.5H721.5V380.5M512.5 411.5V400.5H617.5V423.0M477.0 423.0V411.5H548.0V423.0M686.5 423.0V380.5H756.5V423.0M896.0 423.0V321.5H1105.5V342.0M1000.5 415.0V342.0H1175.5V368.0M964.5 423.0V415.0H1036.5V423.0M1105.5 423.0V368.0H1210.5V392.5M1175.5 423.0V392.5H1245.5V423.0M1787.5 1428.7H1844.8V2647.0H1791.5M1732.4 1401.0H1787.5V2397.8H1529.5M1710.7 1345.6H1732.4V2314.7H1658.0M1689.5 1262.5H1710.7V2176.3H1646.6M1632.0 1179.4H1689.5V2010.1H1655.0M1529.5 459.5H1632.0V1207.1H1625.0M1611.0 1179.4H1625.0V1899.4H1529.5M1529.5 514.9H1611.0V1207.1H1598.9M1587.5 1068.7H1598.9V1733.2H1588.4M1567.0 819.5H1587.5V1345.6H1577.8M1552.8 653.3H1567.0V930.2H1560.3M1529.5 570.3H1552.8V681.0H1545.6M1529.5 625.6H1545.6V708.7H1534.5M1529.5 681.0H1534.5V736.4H1529.5M1545.0 902.5H1560.3V1068.7H1529.5M1540.6 874.9H1545.0V1013.3H1529.5M1529.5 791.8H1540.6V902.5H1535.0M1529.5 847.2H1535.0V930.2H1531.5M1529.5 902.5H1531.5V957.9H1529.5M1554.0 1179.4H1577.8V1428.6H1571.0M1540.3 1151.8H1554.0V1234.8H1529.5M1529.5 1124.1H1540.3V1179.4H1529.5M1563.5 1401.0H1571.0V1567.1H1529.5M1551.7 1317.9H1563.5V1456.3H1547.4M1529.5 1290.2H1551.7V1345.6H1529.5M1529.5 1401.0H1547.4V1484.0H1542.4M1529.5 1456.3H1542.4V1511.7H1529.5M1570.2 1705.6H1588.4V1844.0H1529.5M1543.3 1677.9H1570.2V1788.6H1529.5M1535.8 1650.2H1543.3V1733.2H1529.5M1529.5 1622.5H1535.8V1677.9H1529.5M1529.5 1954.8H1655.0V2037.8H1625.0M1529.5 2010.1H1625.0V2065.5H1529.5M1578.3 2148.6H1646.6V2231.7H1529.5M1529.5 2120.9H1578.3V2176.3H1529.5M1529.5 2287.0H1658.0V2342.4H1529.5M1750.5 2591.6H1791.5V2813.2H1635.8M1674.6 2563.9H1750.5V2730.1H1529.5M1594.9 2508.6H1674.6V2647.0H1608.1M1529.5 2453.2H1594.9V2536.2H1565.8M1529.5 2508.6H1565.8V2563.9H1529.5M1529.5 2619.3H1608.1V2674.7H1529.5M1529.5 2785.5H1635.8V2840.8H1529.5M1648.4 2923.9H1994.9V3034.7H1931.8M1529.5 2896.2H1648.4V2951.6H1529.5M1529.5 3007.0H1931.8V3062.4H1529.5" fill="none" stroke="#6e6e6e" stroke-width="3" stroke-linecap="butt" stroke-linejoin="miter"/>
</svg></body></html>
